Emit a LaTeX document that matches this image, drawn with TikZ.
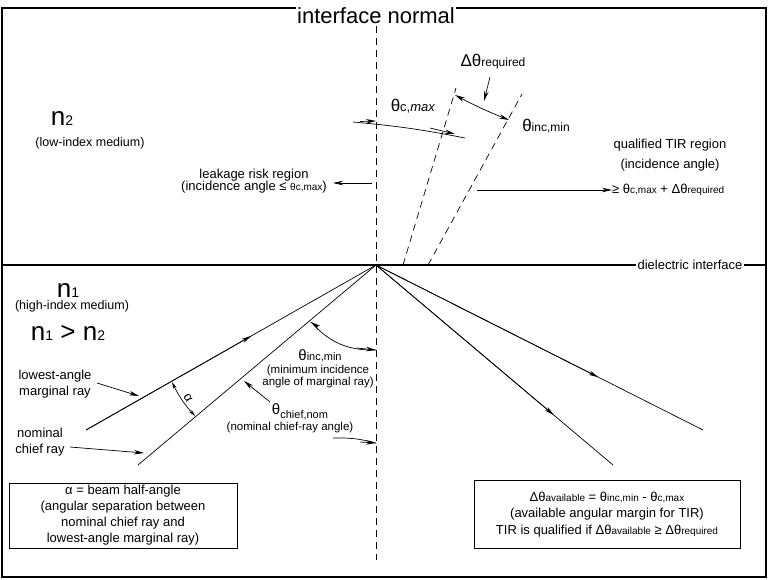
\documentclass[tikz,border=0pt]{standalone}
\usepackage{fontspec}
\setmainfont{Liberation Sans}
\usetikzlibrary{arrows.meta,calc}
\newcommand\lsb[1]{{\fontsize{10}{11}\selectfont #1}}
\newcommand\tsb[1]{{\fontsize{9}{10}\selectfont #1}}
\begin{document}
\begin{tikzpicture}[x=1pt,y=-1pt,
  ray/.style={line width=0.7pt},
  dsh/.style={line width=0.7pt,dash pattern=on 7pt off 5pt},
  arr/.style={line width=0.7pt,-{Stealth[length=10pt,width=4.5pt]}},
  lbl/.style={font=\fontsize{13}{16}\selectfont,inner sep=0pt,align=center},
  sm/.style={font=\fontsize{12.5}{14}\selectfont,inner sep=0pt,align=center},
  tiny/.style={font=\fontsize{11.5}{12}\selectfont,inner sep=0pt,align=center},
  gk/.style={font=\fontsize{17}{18}\selectfont,inner sep=0pt},
  big/.style={font=\fontsize{26}{28}\selectfont,inner sep=0pt}]
\useasboundingbox (0,0) rectangle (768,579);
\draw[line width=1.4pt] (2,8) rectangle (766,577);
\draw[line width=1.4pt] (2,265) -- (766,265);
\coordinate (O) at (376,265);
\coordinate (Nt) at (376,26); \coordinate (Nb) at (376,560);
\draw[dsh] (Nt) -- (Nb);
\node[font=\fontsize{22}{24}\selectfont,fill=white,inner sep=1pt] (title) at (376,16) {interface normal};
\node[lbl,fill=white,inner sep=2pt] (di) at (690,265) {dielectric interface};
% rays
\coordinate (M) at (86,430); \coordinate (C) at (138,465);
\coordinate (R1) at (703,430); \coordinate (R2) at (613,465);
\draw[ray] (M) -- (O); \draw[ray] (C) -- (O);
\draw[ray] (O) -- (R1); \draw[ray] (O) -- (R2);
\draw[arr] (M) -- ($(M)!0.57!(O)$);
\draw[arr] (O) -- ($(O)!0.68!(R1)$);
\draw[arr] (O) -- ($(O)!0.75!(R2)$);
% dashed upper lines
\coordinate (D1a) at (403,265); \coordinate (D1b) at (456,88);
\coordinate (D2a) at (428,265); \coordinate (D2b) at (522,94);
\draw[dsh] (D1a) -- (D1b); \draw[dsh] (D2a) -- (D2b);
% theta c max arc
\coordinate (A0) at (353,122); \coordinate (A1) at (376,121); \coordinate (A2) at (455,134); \coordinate (A3) at (465,138);
\draw[ray] (A0) to[bend left=3] (A3);
\draw[arr] (360,121.5) -- (A1);
\draw[arr] (430,128) -- (A2);
\node[gk] (tc) at (413,106) {θ{\fontsize{13}{14}\selectfont c,\textit{max}}};
% delta theta
\coordinate (B1) at (455,95); \coordinate (B2) at (509,120);
\draw[line width=0.7pt,{Stealth[length=10pt,width=4.5pt]}-{Stealth[length=10pt,width=4.5pt]}] (B1) to[bend right=3] (B2);
\node[gk] (dr) at (493,62) {Δθ{\fontsize{12}{13}\selectfont required}};
\draw[arr] (490,77) -- (484,101);
\node[gk] (tim) at (546,126) {θ{\fontsize{12}{13}\selectfont inc,min}};
% top texts
\node[big] (n2) at (62,118) {n{\fontsize{14}{14}\selectfont 2}};
\node[sm] (lim) at (90,143) {(low-index medium)};
\node[lbl,anchor=north east] (lk2) at (327,181) {(incidence angle ≤ \lsb{θc,max})};
\node[lbl,anchor=south] (lk) at (lk2.north) {leakage risk region};
\draw[arr] (372,183) -- (333,183);
\node[lbl] (q1) at (670,145) {qualified TIR region};
\node[lbl] (q2) at (670,165) {(incidence angle)};
\node[lbl,anchor=west] (q3) at (612,190) {≥ θ\lsb{c,max} + Δθ\lsb{required}};
\draw[arr] (477,190) -- (q3.west);
% lower left texts
\node[big] (n1) at (68,290) {n{\fontsize{14}{14}\selectfont 1}};
\node[sm] (him) at (72,306) {(high-index medium)};
\node[big] (ineq) at (68,333) {n{\fontsize{14}{14}\selectfont 1} > n{\fontsize{14}{14}\selectfont 2}};
\node[lbl] (lam) at (55,384) {lowest-angle\\marginal ray};
\draw[arr] (97,383) -- (139,396);
\node[lbl] (ncr) at (40,442) {nominal\\chief ray};
\draw[arr] (70,447) -- (144,453);
% alpha
\coordinate (al1) at (172,382); \coordinate (al2) at (195,416);
\draw[line width=0.7pt,{Stealth[length=7pt,width=3.5pt]}-{Stealth[length=7pt,width=3.5pt]}] (al1) to[bend right=8] (al2);
\node[lbl,rotate=-60] (al) at (188,398) {α};
% theta inc min lower
\coordinate (I1) at (311,322); \coordinate (I2) at (376,350);
\draw[ray] (I1) to[bend right=25] (I2);
\draw[arr] (357,348) -- (I2);
\draw[arr] (318,327) -- (I1);
\node[font=\fontsize{15}{16}\selectfont,inner sep=0pt] (tim2) at (320,356) {θ{\fontsize{11}{12}\selectfont inc,min}};
\node[tiny] (tim3) at (318,377) {(minimum incidence\\angle of marginal ray)};
% theta chief nom
\node[font=\fontsize{15}{16}\selectfont,inner sep=0pt] (tcn) at (300,412) {θ\raisebox{-4pt}{\fontsize{11}{12}\selectfont chief,nom}};
\node[tiny] (tcn2) at (290,428) {(nominal chief-ray angle)};
\draw[arr] (270,402) -- (244,381);
\draw[ray] (333,438) to[bend left=8] (376,443);
\draw[arr] (360,442) -- (376,443);
% boxes
\draw[line width=0.7pt] (9,483) rectangle (237,548);
\node[lbl] (b1) at (123,515) {α = beam half-angle\\(angular separation between\\nominal chief ray and\\lowest-angle marginal ray)};
\draw[line width=0.7pt] (474,480) rectangle (740,548);
\node[lbl] (b2) at (607,497) {Δθ\lsb{available} = θ\lsb{inc,min} - θ\lsb{c,max}};
\node[lbl] (b3) at (607,514) {(available angular margin for TIR)};
\node[lbl] (b4) at (607,531) {TIR is qualified if Δθ\lsb{available} ≥ Δθ\lsb{required}};
\end{tikzpicture}
\end{document}
